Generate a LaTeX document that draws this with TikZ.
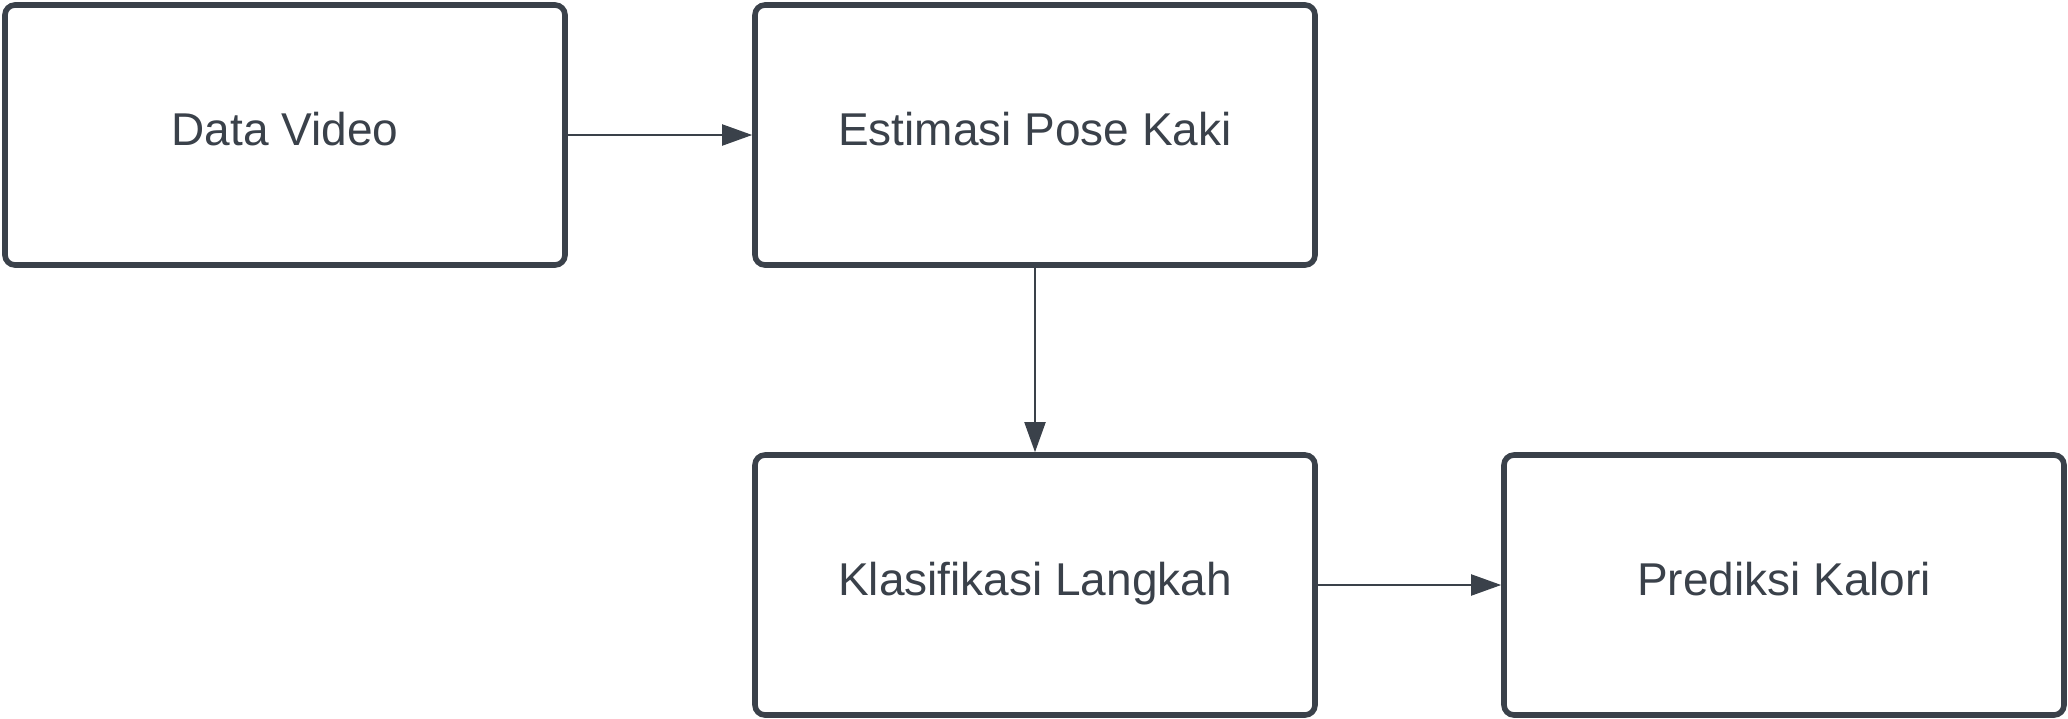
\documentclass[tikz,border=0pt]{standalone}
\usepackage{fontspec}
\setmainfont{Liberation Sans}
\usetikzlibrary{arrows.meta}
\definecolor{lc}{HTML}{3A414A}
\begin{document}
\begin{tikzpicture}[x=0.5pt,y=-0.5pt,
  procbox/.style={draw=lc, line width=2.8pt, rounded corners=5pt, fill=white,
    minimum width=280pt, minimum height=130pt, inner sep=0pt,
    text=lc, font=\fontsize{23pt}{27pt}\selectfont,
    text height=16pt, text depth=5.5pt},
  conn/.style={draw=lc, line width=1pt, -{Triangle[length=15pt,width=10.5pt]}}]
\useasboundingbox (0,0) rectangle (2068,718);
\node[procbox] (a) at (285,135) {Data Video};
\node[procbox] (b) at (1035,135) {Estimasi Pose Kaki};
\node[procbox] (c) at (1035,585) {Klasifikasi Langkah};
\node[procbox] (d) at (1784,585) {Prediksi Kalori};
\draw[conn] (a.east) -- (b.west);
\draw[conn] (b.south) -- (c.north);
\draw[conn] (c.east) -- (d.west);
\end{tikzpicture}
\end{document}
